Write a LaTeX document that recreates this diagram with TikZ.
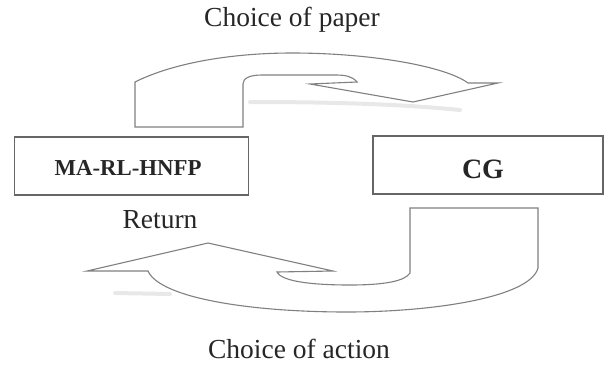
\documentclass[tikz,border=0pt]{standalone}
\usepackage{fontspec}
\setmainfont{Liberation Serif}
\begin{document}
\begin{tikzpicture}[x=1pt,y=-1pt,
  box/.style={draw=black!60,line width=1.3pt,minimum width=#1,inner sep=0pt},
  arrowshape/.style={draw=black!50,line width=1.1pt,fill=white,line join=miter},
  shade/.style={draw=black!20,line width=4pt,line cap=round,opacity=.45},
  lbl/.style={font=\fontsize{27.5}{30}\selectfont,text=black!85}]
\useasboundingbox (0,0) rectangle (610,373);
% boxes
\node[box=234pt,minimum height=58pt] (ma) at (131.5,166) {};
\node[font=\fontsize{22.8}{25}\selectfont\bfseries,text=black!85] (matext) at (128,168) {MA-RL-HNFP};
\node[box=230pt,minimum height=58pt] (cg) at (488,165) {};
\node[font=\fontsize{28}{30}\selectfont\bfseries,text=black!85] (cgtext) at (483,169) {CG};
% labels
\node[lbl] (paper) at (292,20) {Choice of paper};
\node[lbl] (action) at (299,349) {Choice of action};
\node[lbl] (ret) at (160,220) {Return};
% shadows
\draw[shade] (250,102) .. controls (330,102) and (400,104) .. (460,110);
\draw[shade] (115,293) -- (170,294);
% top curved arrow
\draw[arrowshape] (135,127) -- (135,82)
  .. controls (175,62) and (235,53) .. (292,53)
  .. controls (370,53) and (445,66) .. (468,83)
  -- (498,83) -- (413,102) -- (310,84) -- (357,82)
  .. controls (352,76) and (345,75) .. (335,75)
  -- (262,75) .. controls (250,75) and (243,78) .. (243,84)
  -- (243,127) -- cycle;
% bottom curved arrow
\draw[arrowshape] (410,208) -- (538,208) -- (538,268)
  .. controls (530,298) and (430,312) .. (347,312)
  .. controls (250,312) and (160,298) .. (148,271)
  -- (87,271) -- (208,243) -- (333,271) -- (277,272)
  .. controls (282,282) and (315,285) .. (350,285)
  .. controls (385,285) and (405,281) .. (410,273) -- cycle;
\end{tikzpicture}
\end{document}
